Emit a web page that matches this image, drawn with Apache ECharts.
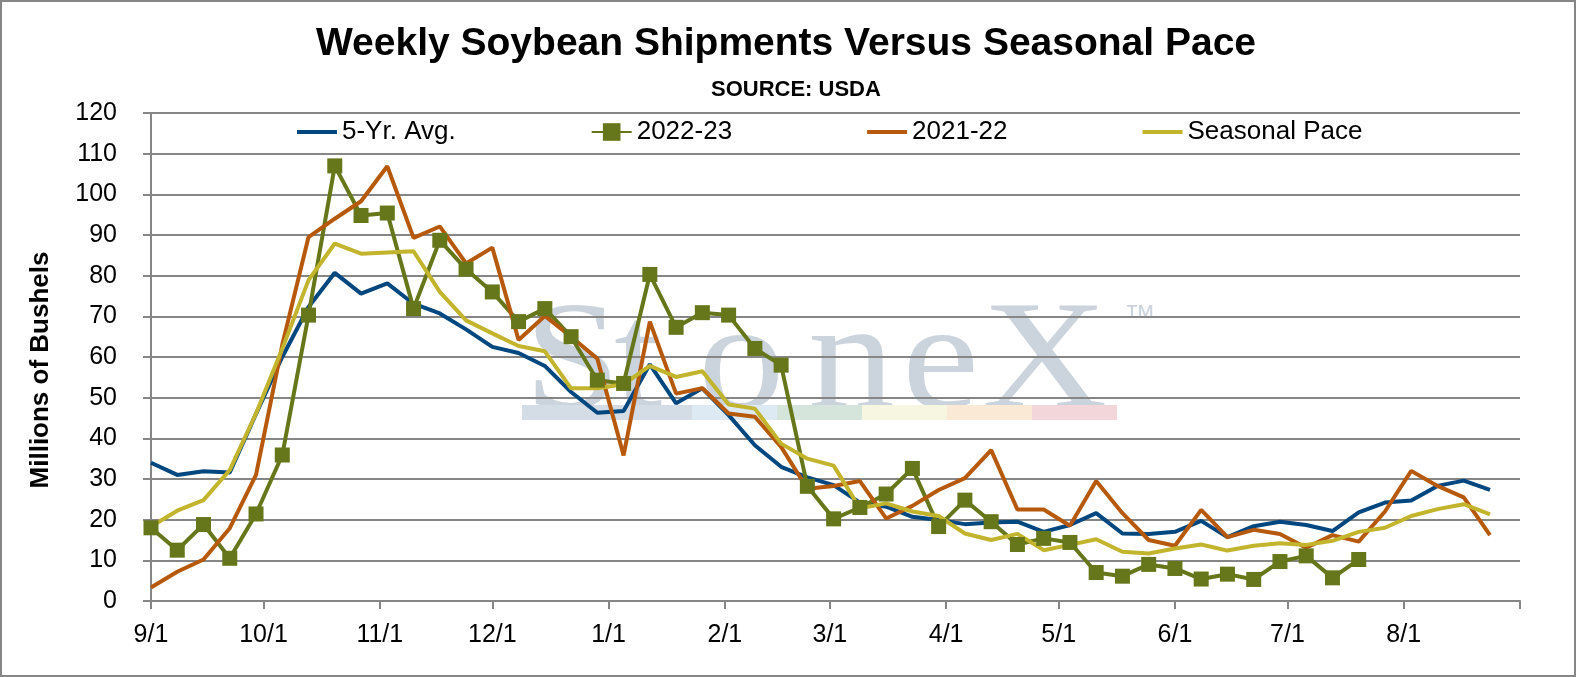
<!DOCTYPE html>
<html>
<head>
<meta charset="UTF-8">
<title>Weekly Soybean Shipments Versus Seasonal Pace</title>
<script src="https://cdn.jsdelivr.net/npm/echarts@6/dist/echarts.min.js"></script>
<style>
  *{margin:0;padding:0;}
  html,body{background:#fff;}
  #main{width:1577px;height:677px;}
</style>
</head>
<body>
<div id="main"></div>
<script>
// month ticks, in days counted from 9/1
var tickDays = [0, 30, 61, 91, 122, 153, 181, 212, 242, 273, 303, 334, 365];
var tickLabels = ['9/1', '10/1', '11/1', '12/1', '1/1', '2/1', '3/1', '4/1', '5/1', '6/1', '7/1', '8/1', ''];

// weekly values, millions of bushels (first week = 9/1)
var avg5 = [34.0, 31.0, 31.9, 31.6, 46.0, 60.0, 72.3, 80.7, 75.6, 78.1,
            73.1, 70.7, 66.8, 62.5, 61.0, 57.8, 51.4, 46.3, 46.7, 58.2,
            48.6, 52.3, 45.7, 38.3, 33.0, 30.4, 28.5, 24.2, 23.2, 20.7,
            19.9, 18.9, 19.3, 19.5, 17.0, 18.7, 21.6, 16.6, 16.5, 17.0,
            19.7, 15.7, 18.4, 19.5, 18.7, 17.2, 21.8, 24.2, 24.7, 28.3,
            29.6, 27.3];
var y2223 = [18.0, 12.5, 18.8, 10.5, 21.4, 35.9, 70.3, 107.0, 94.8, 95.4,
             71.9, 88.7, 81.6, 76.0, 68.7, 71.9, 65.0, 54.3, 53.5, 80.3,
             67.3, 70.9, 70.3, 62.1, 58.0, 28.2, 20.2, 23.0, 26.3, 32.6,
             18.3, 24.8, 19.5, 13.9, 15.4, 14.4, 7.0, 6.1, 9.0, 8.0,
             5.4, 6.6, 5.3, 9.7, 11.1, 5.7, 10.2];
var y2122 = [3.3, 7.2, 10.2, 17.9, 31.0, 63.0, 89.5, 94.0, 98.3, 106.9,
             89.3, 92.1, 83.0, 86.9, 64.2, 70.1, 65.0, 59.6, 35.8, 68.7,
             51.0, 52.3, 46.1, 45.3, 37.9, 27.6, 28.3, 29.5, 20.3, 23.4,
             27.3, 30.2, 37.1, 22.5, 22.5, 18.5, 29.5, 21.6, 15.0, 13.6,
             22.4, 15.7, 17.5, 16.5, 13.1, 16.2, 14.6, 22.0, 32.0, 28.3,
             25.5, 16.2];
var pace = [18.3, 22.2, 24.8, 32.2, 46.1, 62.0, 78.9, 87.9, 85.4, 85.7,
            86.0, 76.0, 69.0, 65.8, 62.7, 61.4, 52.3, 52.3, 53.3, 57.8,
            55.1, 56.5, 48.3, 47.3, 38.7, 35.0, 33.3, 22.8, 24.0, 22.0,
            20.9, 16.6, 15.0, 16.5, 12.5, 13.8, 15.2, 12.1, 11.7, 12.9,
            13.9, 12.4, 13.6, 14.2, 13.8, 14.8, 17.0, 18.0, 20.9, 22.6,
            23.8, 21.3];

var FONT = 'Liberation Sans';
var GREY = '#868686';
// flat bar used as legend icon for the plain lines
var LINE_ICON = 'path://M0,0H10V1H0Z';

// each week sits 7 days after the previous one
function weekly(arr) {
  return arr.map(function (v, i) { return [i * 7, v]; });
}

// StoneX watermark behind the plot
var wmLetters = ['S', 't', 'o', 'n', 'e', 'X'];
var wmX = [524, 614, 698, 808, 902, 982];
var stripeX = [522, 692, 777, 862, 947, 1032, 1117];
var stripeColors = ['#d4dce5', '#dde9f3', '#d6e5dc', '#f7f6e0', '#f9e9d5', '#f2d6da'];
var graphics = [];
wmLetters.forEach(function (ch, i) {
  graphics.push({
    type: 'text', x: wmX[i], y: 289, z: -1, scaleX: 1.12,
    style: { text: ch, fill: '#cbd4dd', font: '155px "Liberation Serif"' }
  });
});
graphics.push({
  type: 'text', x: 1124, y: 302, z: -1,
  style: { text: '\u2122', fill: '#cbd4dd', font: '32px "Liberation Sans"' }
});
for (var s = 0; s < stripeColors.length; s++) {
  graphics.push({
    type: 'rect', z: -1,
    shape: { x: stripeX[s], y: 405, width: stripeX[s + 1] - stripeX[s], height: 15 },
    style: { fill: stripeColors[s] }
  });
}
// frame round the whole picture
graphics.push({
  type: 'rect', z: 10,
  shape: { x: 1, y: 1, width: 1574, height: 675 },
  style: { fill: 'none', stroke: GREY, lineWidth: 2 }
});
// axis title
graphics.push({
  type: 'text', x: 41, y: 370, rotation: Math.PI / 2,
  style: { text: 'Millions of Bushels', fill: '#000', font: 'bold 26px "Liberation Sans"',
           align: 'center', verticalAlign: 'middle' }
});

var myChart = echarts.init(document.getElementById('main'));

var option = {
  backgroundColor: '#fff',
  animation: false,
  title: [
    { text: 'Weekly Soybean Shipments Versus Seasonal Pace', left: 316, top: 25, padding: 0,
      textStyle: { fontFamily: FONT, fontSize: 39, fontWeight: 'bold', color: '#000' } },
    { text: 'SOURCE: USDA', left: 711, top: 79, padding: 0,
      textStyle: { fontFamily: FONT, fontSize: 22, fontWeight: 'bold', color: '#000' } }
  ],
  legend: {
    left: 292, top: 114, itemGap: 135, itemWidth: 40, itemHeight: 22,
    textStyle: { fontFamily: FONT, fontSize: 26, color: '#000' },
    data: [
      { name: '5-Yr. Avg.', icon: LINE_ICON },
      { name: '2022-23' },
      { name: '2021-22', icon: LINE_ICON },
      { name: 'Seasonal Pace', icon: LINE_ICON }
    ]
  },
  grid: { left: 151, right: 57, top: 113, bottom: 76 },
  xAxis: {
    type: 'value', min: 0, max: 365,
    axisLine: { lineStyle: { color: GREY, width: 2 } },
    axisTick: { customValues: tickDays, length: 8, lineStyle: { color: GREY, width: 2 } },
    axisLabel: {
      customValues: tickDays.slice(0, 12), margin: 22,
      fontFamily: FONT, fontSize: 25, color: '#000',
      formatter: function (v) { return tickLabels[tickDays.indexOf(v)]; }
    },
    splitLine: { show: false }
  },
  yAxis: {
    type: 'value', min: 0, max: 120, interval: 10,
    axisLine: { show: true, lineStyle: { color: GREY, width: 2 } },
    axisTick: { show: true, length: 8, lineStyle: { color: GREY, width: 2 } },
    axisLabel: { margin: 34, fontFamily: FONT, fontSize: 25, color: '#000' },
    splitLine: { lineStyle: { color: GREY, width: 2 } }
  },
  graphic: graphics,
  series: [
    { name: '5-Yr. Avg.', type: 'line', data: weekly(avg5), symbol: 'none',
      color: '#00477f', lineStyle: { width: 4 } },
    { name: '2022-23', type: 'line', data: weekly(y2223), symbol: 'rect', symbolSize: 15,
      color: '#66761a', lineStyle: { width: 4 } },
    { name: '2021-22', type: 'line', data: weekly(y2122), symbol: 'none',
      color: '#b6590c', lineStyle: { width: 4 } },
    { name: 'Seasonal Pace', type: 'line', data: weekly(pace), symbol: 'none',
      color: '#c3b42e', lineStyle: { width: 4 } }
  ]
};

myChart.setOption(option);
</script>
</body>
</html>
